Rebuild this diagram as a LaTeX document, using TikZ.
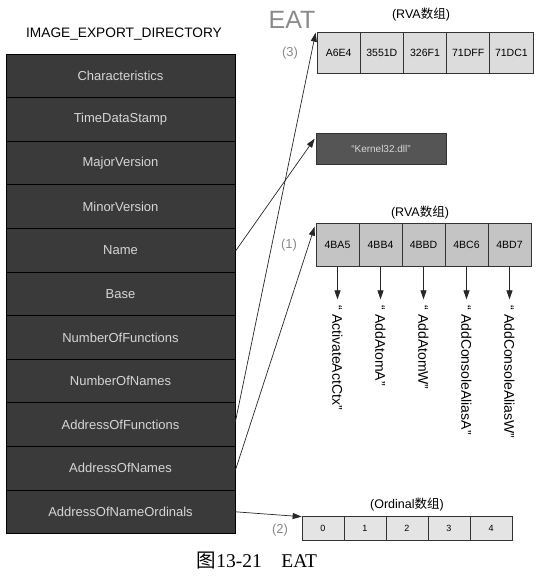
\documentclass[tikz,border=0pt]{standalone}
\usepackage{fontspec}
\setmainfont{Liberation Sans}
\newfontfamily\cjk{Noto Sans CJK SC}
\newfontfamily\capserif{Liberation Serif}
\usetikzlibrary{arrows.meta,calc}
\definecolor{tabfill}{HTML}{3A3A3A}
\definecolor{tabtext}{HTML}{D6D6D6}
\definecolor{cellA}{HTML}{DCDCDC}
\definecolor{cellB}{HTML}{C4C4C4}
\definecolor{cellC}{HTML}{E4E4E4}
\definecolor{kfill}{HTML}{555555}
\definecolor{labgray}{HTML}{8A8A8A}
\tikzset{
  row/.style={draw=black, line width=0.8pt, fill=tabfill, text=tabtext,
    minimum width=229pt, minimum height=43.6pt, inner sep=0pt,
    font=\fontsize{13}{15}\selectfont},
  cellbox/.style={draw=black!80, line width=0.7pt, minimum width=43.2pt,
    minimum height=41pt, inner sep=0pt, font=\fontsize{10.5}{12}\selectfont},
  ordbox/.style={draw=black!80, line width=0.7pt, fill=cellC, minimum width=42pt,
    minimum height=24pt, inner sep=0pt, font=\fontsize{9}{10}\selectfont},
  arr/.style={draw=black!85, line width=0.7pt, -{Triangle[length=9pt,width=6pt]}},
  numlab/.style={text=labgray, font=\fontsize{13}{15}\selectfont},
  hdr/.style={font=\fontsize{12.5}{14}\selectfont},
  fname/.style={rotate=-90, anchor=west, inner sep=0pt, font=\fontsize{14}{16}\selectfont},
}
\begin{document}
\begin{tikzpicture}[x=1pt,y=-1pt]
\useasboundingbox (0,0) rectangle (541,582);
% title
\node[font=\fontsize{13.7}{15}\selectfont] (title) at (124,34) {IMAGE\_EXPORT\_DIRECTORY};
% table rows
\foreach \t [count=\i] in {Characteristics,TimeDataStamp,MajorVersion,MinorVersion,Name,Base,NumberOfFunctions,NumberOfNames,AddressOfFunctions,AddressOfNames,AddressOfNameOrdinals}{
  \node[row] (r\i) at (120.5,{54+43.6*(\i-0.5)}) {\t};
}
% EAT label
\node[text=labgray, font=\fontsize{25}{28}\selectfont, inner sep=0pt] (eat) at (292,20) {EAT};
% top array (3)
\node[hdr] (h3) at (421,15) {(RVA{\cjk 数组})};
\foreach \t [count=\i] in {A6E4,3551D,326F1,71DFF,71DC1}{
  \node[cellbox, fill=cellA] (a\i) at ({317+43.2*(\i-0.5)},52.5) {\t};
}
\node[numlab] (n3) at (290,53) {(3)};
% kernel32 box
\node[draw=black!80, line width=0.7pt, fill=kfill, text=tabtext, minimum width=130pt,
  minimum height=31pt, inner sep=0pt, font=\fontsize{10}{12}\selectfont] (k) at (381,148.5) {“Kernel32.dll”};
% middle array (1)
\node[hdr] (h1) at (420,213) {(RVA{\cjk 数组})};
\foreach \t [count=\i] in {4BA5,4BB4,4BBD,4BC6,4BD7}{
  \node[cellbox, fill=cellB, minimum width=43pt, minimum height=43pt] (b\i) at ({316+43*(\i-0.5)},244.5) {\t};
}
\node[numlab] (n1) at (289,245) {(1)};
% function names
\foreach \t [count=\i] in {ActivateActCtx,AddAtomA,AddAtomW,AddConsoleAliasA,AddConsoleAliasW}{
  \coordinate (e\i) at ($(b\i.south)+(0,33)$);
  \draw[arr] (b\i.south) -- (e\i);
  \node[fname] (f\i) at ($(e\i)+(0,6)$) {“ \t ”};
}
% bottom array (2)
\node[hdr] (h2) at (407,505) {(Ordinal{\cjk 数组})};
\foreach \t [count=\i] in {0,1,2,3,4}{
  \node[ordbox] (o\i) at ({302+42*(\i-0.5)},528) {\t};
}
\node[numlab] (n2) at (280,530) {(2)};
% connectors
\coordinate (tk) at ($(k.north west)+(-1,6)$);
\draw[arr] ($(r5.east)+(0,1)$) -- (tk);
\coordinate (ta) at ($(a1.north west)+(-1,1)$);
\draw[arr] ($(r9.east)+(0,-3)$) -- (ta);
\coordinate (tb) at ($(b1.north west)+(-1,4)$);
\draw[arr] ($(r10.east)+(0,2)$) -- (tb);
\coordinate (to) at ($(o1.north west)+(0,1)$);
\draw[arr] ($(r11.east)+(0,0)$) -- (to);
% caption
\node[font=\fontsize{19.5}{22}\selectfont] (cap) at (257,561) {{\cjk 图}{\capserif 13-21\quad EAT}};
\end{tikzpicture}
\end{document}
